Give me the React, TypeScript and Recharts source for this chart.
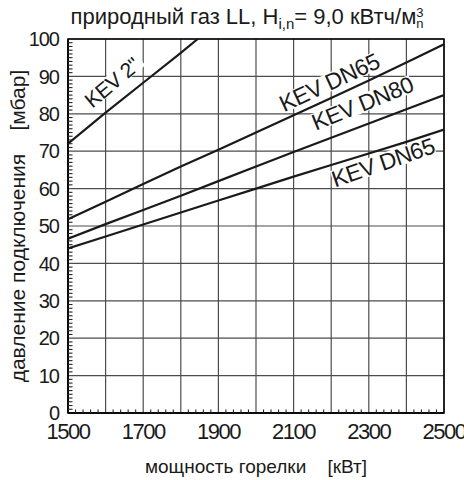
import React from 'react';
import {
  LineChart,
  Line,
  XAxis,
  YAxis,
  CartesianGrid,
  ReferenceArea,
  ReferenceDot,
} from 'recharts';

const FONT = "'Liberation Sans', Arial, sans-serif";

// burner output [kW] and connection pressure [mbar]
const powerTicks = [1500, 1600, 1700, 1800, 1900, 2000, 2100, 2200, 2300, 2400, 2500];
const pressureTicks = [0, 10, 20, 30, 40, 50, 60, 70, 80, 90, 100];
const minorPowerTicks = [
  1520, 1540, 1560, 1580, 1620, 1640, 1660, 1680, 1720, 1740, 1760, 1780,
  1820, 1840, 1860, 1880, 1920, 1940, 1960, 1980, 2020, 2040, 2060, 2080,
  2120, 2140, 2160, 2180, 2220, 2240, 2260, 2280, 2320, 2340, 2360, 2380,
  2420, 2440, 2460, 2480,
];
const minorPressureTicks = [
  1, 2, 3, 4, 5, 6, 7, 8, 9, 11, 12, 13, 14, 15, 16, 17, 18, 19, 21, 22, 23, 24, 25,
  26, 27, 28, 29, 31, 32, 33, 34, 35, 36, 37, 38, 39, 41, 42, 43, 44, 45, 46, 47, 48, 49,
  51, 52, 53, 54, 55, 56, 57, 58, 59, 61, 62, 63, 64, 65, 66, 67, 68, 69, 71, 72, 73,
  74, 75, 76, 77, 78, 79, 81, 82, 83, 84, 85, 86, 87, 88, 89, 91, 92, 93, 94, 95, 96, 97,
  98, 99,
];

const kev2Power = [1500, 1600, 1700, 1800, 1845];
const kev2Pressure = [72, 80.3, 88.3, 96.3, 100];

const dn65aPressure = [51.8, 56.5, 61.2, 65.9, 70.4, 75.0, 79.6, 84.2, 88.9, 93.7, 98.6];
const dn80Pressure = [46.6, 50.5, 54.3, 58.1, 62.0, 65.9, 69.8, 73.6, 77.4, 81.2, 85.0];
const dn65bPressure = [44.0, 47.2, 50.4, 53.6, 56.8, 60.0, 63.2, 66.3, 69.4, 72.5, 75.8];

const kev2Data = kev2Power.map((p, i) => ({ power: p, pressure: kev2Pressure[i] }));
const mainData = powerTicks.map((p, i) => ({
  power: p,
  dn65a: dn65aPressure[i],
  dn80: dn80Pressure[i],
  dn65b: dn65bPressure[i],
}));

// curve labels: [text, power, pressure, rotation, font size]
const curveLabels: [string, number, number, number, number][] = [
  ['KEV 2"', 1617, 88.4, -40, 21],
  ['KEV DN65', 2195, 88.4, -25, 23],
  ['KEV DN80', 2283, 82.8, -22, 23],
  ['KEV DN65', 2338, 67.0, -19, 23],
];

// eslint-disable-next-line @typescript-eslint/no-explicit-any
function centre(props: any): [number, number] | null {
  const vb = props.viewBox;
  if (!vb) return null;
  return [vb.x + (vb.width || 0) / 2, vb.y + (vb.height || 0) / 2];
}

function rotLabel(txt: string, rot: number, size: number) {
  // eslint-disable-next-line @typescript-eslint/no-explicit-any
  return (props: any) => {
    const c = centre(props);
    if (!c) return null;
    const [cx, cy] = c;
    const w = txt.length * size * 0.58;
    const h = size * 0.78;
    return (
      <g transform={`rotate(${rot}, ${cx}, ${cy})`}>
        {/* white knock-out behind the label, as in the print */}
        <rect x={cx - w / 2} y={cy - h / 2} width={w} height={h} fill="#fff" />
        <text
          x={cx}
          y={cy}
          textAnchor="middle"
          dominantBaseline="central"
          fontFamily={FONT}
          fontSize={size}
          fill="#1a1a1a"
          style={{ letterSpacing: '-0.5px' }}
        >
          {txt}
        </text>
      </g>
    );
  };
}

// small inward tick marks, hung on reference dots
// eslint-disable-next-line @typescript-eslint/no-explicit-any
const xMinorMark = (props: any) => {
  const c = centre(props);
  if (!c) return null;
  return <line x1={c[0]} x2={c[0]} y1={c[1]} y2={c[1] - 3.5} stroke="#222" strokeWidth={1.1} />;
};
// eslint-disable-next-line @typescript-eslint/no-explicit-any
const yMinorMark = (props: any) => {
  const c = centre(props);
  if (!c) return null;
  return <line x1={c[0]} x2={c[0] + 4.5} y1={c[1]} y2={c[1]} stroke="#222" strokeWidth={1.1} />;
};

// eslint-disable-next-line @typescript-eslint/no-explicit-any
function YTitle(props: any) {
  const vb = props.viewBox;
  const cx = 17;
  const cy = vb.y + vb.height / 2;
  return (
    <text
      x={cx}
      y={cy}
      transform={`rotate(-90, ${cx}, ${cy})`}
      textAnchor="middle"
      dominantBaseline="central"
      fontFamily={FONT}
      fontSize={21}
      fill="#1a1a1a"
    >
      {'давление подключения\u00A0\u00A0\u00A0\u00A0[мбар]'}
    </text>
  );
}

// eslint-disable-next-line @typescript-eslint/no-explicit-any
function XTitle(props: any) {
  const vb = props.viewBox;
  const cx = vb.x + vb.width / 2;
  return (
    <text
      x={cx}
      y={466}
      textAnchor="middle"
      dominantBaseline="central"
      fontFamily={FONT}
      fontSize={19}
      fill="#1a1a1a"
    >
      {'мощность горелки\u00A0\u00A0\u00A0\u00A0[кВт]'}
    </text>
  );
}

function formatPower(v: number): string {
  return (v - 1500) % 200 === 0 ? String(v) : '';
}

export default function App() {
  return (
    <div style={{ position: 'absolute', left: 0, top: 0, width: 464, height: 480, background: '#fff' }}>
      {/* Title */}
      <div style={{
        position:   'absolute',
        left:       0,
        top:        4,
        width:      464,
        textAlign:  'center',
        fontFamily: FONT,
        fontSize:   22,
        color:      '#1a1a1a',
        whiteSpace: 'nowrap',
        paddingLeft: 30,
        boxSizing:  'border-box',
        zIndex:     2,
      }}>
        природный газ LL, H<sub style={{ fontSize: 15, verticalAlign: '-5px', lineHeight: 0 }}>i,n</sub>= 9,0 кВтч/м
        <span style={{ display: 'inline-block', fontSize: 13, lineHeight: '11px', verticalAlign: 'middle', textAlign: 'left' }}>
          <span style={{ display: 'block' }}>3</span>
          <span style={{ display: 'block' }}>n</span>
        </span>
      </div>

      <LineChart
        width={464}
        height={480}
        margin={{ top: 39, right: 20, bottom: 0, left: 0 }}
        style={{ position: 'absolute', left: 0, top: 0 }}
      >
        <CartesianGrid stroke="#4d4d4d" strokeWidth={1.2} />

        <XAxis
          type="number"
          dataKey="power"
          domain={[1500, 2500]}
          ticks={powerTicks}
          interval={0}
          tickFormatter={formatPower}
          tick={{ fontFamily: FONT, fontSize: 22, fill: '#1a1a1a', letterSpacing: -1.5 }}
          tickLine={false}
          axisLine={{ stroke: '#000', strokeWidth: 1.5 }}
          tickMargin={4}
          height={67}
          allowDataOverflow
          label={<XTitle />}
        />

        <YAxis
          type="number"
          domain={[0, 100]}
          ticks={pressureTicks}
          interval={0}
          tick={{ fontFamily: FONT, fontSize: 20, fill: '#1a1a1a', letterSpacing: -1 }}
          tickLine={false}
          axisLine={{ stroke: '#000', strokeWidth: 1.5 }}
          tickMargin={3}
          width={68}
          allowDataOverflow
          label={<YTitle />}
        />

        {/* plot frame */}
        <ReferenceArea x1={1500} x2={2500} y1={0} y2={100} fill="none" stroke="#000" strokeWidth={1.5} fillOpacity={0} />

        {/* minor ticks along the inner side of both axes */}
        {minorPowerTicks.map((p) => (
          <ReferenceDot
            key={`mx${p}`}
            x={p}
            y={0}
            r={0}
            fill="none"
            stroke="none"
            ifOverflow="visible"
            label={xMinorMark}
          />
        ))}
        {minorPressureTicks.map((v) => (
          <ReferenceDot
            key={`my${v}`}
            x={1500}
            y={v}
            r={0}
            fill="none"
            stroke="none"
            ifOverflow="visible"
            label={yMinorMark}
          />
        ))}

        {curveLabels.map(([txt, p, v, rot, size], i) => (
          <ReferenceDot
            key={i}
            x={p}
            y={v}
            r={0}
            fill="none"
            stroke="none"
            label={rotLabel(txt, rot, size)}
          />
        ))}

        <Line
          data={kev2Data}
          dataKey="pressure"
          type="linear"
          stroke="#1a1a1a"
          strokeWidth={2.2}
          dot={false}
          isAnimationActive={false}
        />
        <Line
          data={mainData}
          dataKey="dn65a"
          type="linear"
          stroke="#1a1a1a"
          strokeWidth={2.2}
          dot={false}
          isAnimationActive={false}
        />
        <Line
          data={mainData}
          dataKey="dn80"
          type="linear"
          stroke="#1a1a1a"
          strokeWidth={2.2}
          dot={false}
          isAnimationActive={false}
        />
        <Line
          data={mainData}
          dataKey="dn65b"
          type="linear"
          stroke="#1a1a1a"
          strokeWidth={2.2}
          dot={false}
          isAnimationActive={false}
        />
      </LineChart>
    </div>
  );
}
